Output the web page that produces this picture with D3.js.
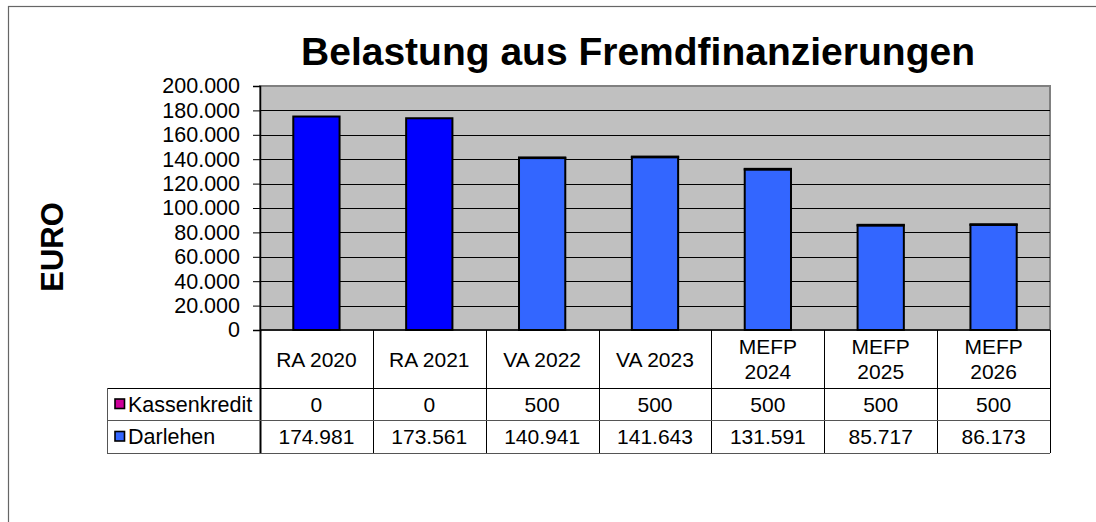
<!DOCTYPE html>
<html lang="de">
<head>
<meta charset="utf-8">
<title>Belastung aus Fremdfinanzierungen</title>
<script src="https://d3js.org/d3.v7.js"></script>
<style>
	body { margin: 0; background: #fff; }
	svg { display: block; font-family: "Liberation Sans", Arial, sans-serif; }
</style>
</head>
<body>
<svg></svg>
<script>
	// data
	const categories = ['RA 2020', 'RA 2021', 'VA 2022', 'VA 2023', 'MEFP 2024', 'MEFP 2025', 'MEFP 2026'];
	const kassenkredit = [0, 0, 500, 500, 500, 500, 500];
	const darlehen = [174981, 173561, 140941, 141643, 131591, 85717, 86173];
	const seriesNames = ['Kassenkredit', 'Darlehen'];
	const yTicks = [0, 20000, 40000, 60000, 80000, 100000, 120000, 140000, 160000, 180000, 200000];

	const w = 1096;
	const h = 522;
	const plot = {left: 260, right: 1050, top: 86, bottom: 330};
	const rowTop = [388, 420];
	const rowBottom = 453;
	const tableLeft = 107;

	const colorKasse = '#CC0099';
	const colorDarlehenRA = '#0000FF';
	const colorDarlehen = '#3366FF';

	const de = d3.formatLocale({decimal: ',', thousands: '.', grouping: [3], currency: ['', ' €']});
	const fmt = de.format(',d');

	const svg = d3.select('svg')
		.attr('width', w)
		.attr('height', h);

	// outer frame (cut off at right and bottom)
	svg.append('rect')
		.attr('x', 8.5).attr('y', 6.5)
		.attr('width', 1200).attr('height', 600)
		.attr('fill', 'none')
		.attr('stroke', '#666')
		.attr('stroke-width', 1.2);

	const x = d3.scaleBand()
		.domain(categories)
		.range([plot.left, plot.right])
		.paddingInner(0.59)
		.paddingOuter(0.295);

	const xCell = d3.scaleBand()
		.domain(categories)
		.range([plot.left, plot.right]);

	const y = d3.scaleLinear()
		.domain([0, 200000])
		.range([plot.bottom, plot.top]);

	// plot area
	svg.append('rect')
		.attr('x', plot.left).attr('y', plot.top)
		.attr('width', plot.right - plot.left)
		.attr('height', plot.bottom - plot.top)
		.attr('fill', '#C0C0C0')
		.attr('stroke', '#808080')
		.attr('stroke-width', 2);

	// gridlines
	svg.append('g')
		.selectAll('line')
		.data(yTicks.filter(d => d > 0 && d < 200000))
		.join('line')
		.attr('x1', plot.left).attr('x2', plot.right)
		.attr('y1', d => Math.round(y(d)) + 0.5)
		.attr('y2', d => Math.round(y(d)) + 0.5)
		.attr('stroke', '#000')
		.attr('stroke-width', 1);

	// bars (stacked: Darlehen, Kassenkredit on top)
	const bars = svg.append('g');
	bars.selectAll('rect.darlehen')
		.data(categories)
		.join('rect')
		.attr('class', 'darlehen')
		.attr('x', d => x(d))
		.attr('width', x.bandwidth())
		.attr('y', (d, i) => y(darlehen[i]))
		.attr('height', (d, i) => y(0) - y(darlehen[i]))
		.attr('fill', (d, i) => d.startsWith('RA') ? colorDarlehenRA : colorDarlehen)
		.attr('stroke', '#000')
		.attr('stroke-width', 2);

	// Kassenkredit segment is tiny (500) - its border merges with the bar top
	bars.selectAll('rect.kasse')
		.data(categories)
		.join('rect')
		.attr('class', 'kasse')
		.attr('x', d => x(d))
		.attr('width', x.bandwidth())
		.attr('y', (d, i) => y(darlehen[i] + kassenkredit[i]))
		.attr('height', (d, i) => y(darlehen[i]) - y(darlehen[i] + kassenkredit[i]))
		.attr('fill', colorKasse)
		.attr('stroke', '#000')
		.attr('stroke-width', 2);

	// y axis
	const yAxis = svg.append('g')
		.attr('transform', `translate(${plot.left},0)`)
		.call(d3.axisLeft(y).tickValues(yTicks).tickFormat(fmt).tickSize(7).tickPadding(13));
	yAxis.select('.domain').attr('stroke', '#000').attr('stroke-width', 1.5);
	yAxis.selectAll('.tick line').attr('stroke', '#000');
	yAxis.selectAll('text')
		.attr('font-size', '21.5px')
		.attr('fill', '#000');

	// x axis line
	svg.append('line')
		.attr('x1', plot.left).attr('x2', plot.right)
		.attr('y1', plot.bottom).attr('y2', plot.bottom)
		.attr('stroke', '#000').attr('stroke-width', 1.5);

	// data table
	const table = svg.append('g');

	// header cells with category labels
	const header = table.selectAll('text.cat')
		.data(categories)
		.join('text')
		.attr('class', 'cat')
		.attr('text-anchor', 'middle')
		.attr('font-size', '21px')
		.attr('fill', '#000');
	header.each(function (d) {
		const t = d3.select(this);
		const cx = xCell(d) + xCell.bandwidth() / 2;
		t.text(d).attr('x', cx);
		let lines = [d];
		if (this.getComputedTextLength() > xCell.bandwidth() - 8) lines = d.split(' ');
		t.text(null);
		const mid = (plot.bottom + rowTop[0]) / 2;
		const lh = 25;
		lines.forEach((l, k) => {
			t.append('tspan')
				.attr('x', cx)
				.attr('y', mid + (k - (lines.length - 1) / 2) * lh)
				.attr('dy', '0.36em')
				.text(l);
		});
	});

	// value rows
	const rows = [kassenkredit, darlehen];
	rows.forEach((vals, r) => {
		const rb = r === 0 ? rowTop[1] : rowBottom;
		const cy = (rowTop[r] + rb) / 2;
		table.selectAll('text.v' + r)
			.data(categories)
			.join('text')
			.attr('class', 'v' + r)
			.attr('x', d => xCell(d) + xCell.bandwidth() / 2)
			.attr('y', cy)
			.attr('dy', '0.36em')
			.attr('text-anchor', 'middle')
			.attr('font-size', '21px')
			.text((d, i) => fmt(vals[i]));

		// legend key + series name
		table.append('rect')
			.attr('x', 115).attr('y', cy - 5)
			.attr('width', 9.5).attr('height', 9.5)
			.attr('fill', r === 0 ? colorKasse : colorDarlehen)
			.attr('stroke', '#000')
			.attr('stroke-width', 1.6);
		table.append('text')
			.attr('x', 128).attr('y', cy)
			.attr('dy', '0.36em')
			.attr('font-size', '21.5px')
			.text(seriesNames[r]);
	});

	// table lines
	const bounds = categories.map(d => xCell(d)).concat([plot.right]);
	table.selectAll('line.vline')
		.data(bounds)
		.join('line')
		.attr('class', 'vline')
		.attr('x1', d => Math.round(d) + 0.5).attr('x2', d => Math.round(d) + 0.5)
		.attr('y1', plot.bottom).attr('y2', rowBottom)
		.attr('stroke', '#000')
		.attr('stroke-width', (d, i) => i === 0 ? 2 : 1);
	table.append('line')
		.attr('x1', tableLeft).attr('x2', plot.right)
		.attr('y1', rowTop[0] + 0.5).attr('y2', rowTop[0] + 0.5)
		.attr('stroke', '#000');
	table.append('line')
		.attr('x1', tableLeft).attr('x2', plot.right)
		.attr('y1', rowTop[1] + 0.5).attr('y2', rowTop[1] + 0.5)
		.attr('stroke', '#555');
	table.append('line')
		.attr('x1', tableLeft).attr('x2', plot.right)
		.attr('y1', rowBottom + 0.5).attr('y2', rowBottom + 0.5)
		.attr('stroke', '#555');
	table.append('line')
		.attr('x1', tableLeft + 0.5).attr('x2', tableLeft + 0.5)
		.attr('y1', rowTop[0]).attr('y2', rowBottom)
		.attr('stroke', '#555');

	// title and axis title
	svg.append('text')
		.attr('x', 638).attr('y', 65)
		.attr('text-anchor', 'middle')
		.attr('font-size', '39px')
		.attr('font-weight', 'bold')
		.text('Belastung aus Fremdfinanzierungen');

	svg.append('text')
		.attr('transform', 'translate(51.5,247) rotate(-90)')
		.attr('text-anchor', 'middle')
		.attr('dy', '0.36em')
		.attr('font-size', '31px')
		.attr('font-weight', 'bold')
		.text('EURO');
</script>
</body>
</html>
